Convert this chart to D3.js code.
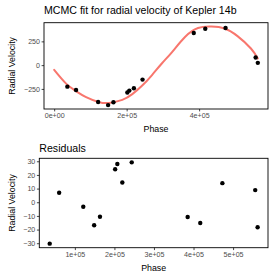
<!DOCTYPE html>
<html>
<head>
<meta charset="utf-8">
<script src="https://cdn.jsdelivr.net/npm/d3@7"></script>
<style>
  html, body { margin: 0; padding: 0; background: #ffffff; }
  svg { display: block; font-family: "Liberation Sans", Arial, Helvetica, sans-serif; }
</style>
</head>
<body>
<svg id="chart" width="277" height="277"></svg>
<script>
// ---- data ----
const obsPhase = [36400, 60300, 121300, 148800, 163500, 201900, 207400, 220000, 243800, 385200, 417000, 472900, 556000, 562000];
const obsRV    = [-226, -261, -388, -420, -391, -288, -268, -243, -152, 338, 383, 391, 80, 24];
const residRV  = [-30.3, 7, -3.3, -16.8, -10.6, 24.2, 28, 14.5, 29.2, -10.8, -15.2, 14, 8.9, -18.3];

const fitPhase = [0, 33600, 61000, 88000, 124600, 152000, 188000, 215600, 243000, 270000, 297000, 324700, 361000, 397000, 434000, 470000, 506000, 543000, 562000];
const fitRV    = [-50, -197, -275, -337, -390, -397, -365, -305, -215, -104, 17, 135, 296, 390, 405, 385, 305, 175, 70];

const topXTicks = [0, 200000, 400000];
const topXLabels = ["0e+00", "2e+05", "4e+05"];
const topYTicks = [-250, 0, 250];
const topYLabels = ["\u2212250", "0", "250"];
const resXTicks = [100000, 200000, 300000, 400000, 500000];
const resXLabels = ["1e+05", "2e+05", "3e+05", "4e+05", "5e+05"];
const resYTicks = [-30, -20, -10, 0, 10, 20, 30];
const resYLabels = ["\u221230", "\u221220", "\u221210", "0", "10", "20", "30"];

const titleTop = "MCMC fit for radial velocity of Kepler 14b";
const titleRes = "Residuals";
const xTitle = "Phase";
const yTitle = "Radial Velocity";

// ---- helpers ----
const svg = d3.select("#chart");
function expand(ext) { const p = (ext[1] - ext[0]) * 0.05; return [ext[0] - p, ext[1] + p]; }

function panel(cfg) {
  const g = svg.append("g");
  const x = d3.scaleLinear().domain(expand(cfg.xExt)).range([cfg.left, cfg.right]);
  const y = d3.scaleLinear().domain(expand(cfg.yExt)).range([cfg.bottom, cfg.top]);

  // title
  g.append("text").attr("x", cfg.left).attr("y", cfg.titleY)
    .attr("font-size", 10.6).attr("fill", "#000").text(cfg.title);

  // axes
  const xa = d3.axisBottom(x).tickValues(cfg.xTicks).tickFormat((d, i) => cfg.xLabels[i]).tickSize(2.4).tickPadding(1.6);
  const ya = d3.axisLeft(y).tickValues(cfg.yTicks).tickFormat((d, i) => cfg.yLabels[i]).tickSize(2.4).tickPadding(1.6);
  const gx = g.append("g").attr("transform", `translate(0,${cfg.bottom})`).call(xa);
  const gy = g.append("g").attr("transform", `translate(${cfg.left},0)`).call(ya);
  [gx, gy].forEach(a => {
    a.select(".domain").remove();
    a.selectAll(".tick line").attr("stroke", "#333333").attr("stroke-width", 0.9);
    a.selectAll(".tick text").attr("fill", "#4D4D4D").attr("font-size", 7.1)
      .attr("font-family", "'Liberation Sans', Arial, sans-serif");
  });

  // border
  g.append("rect").attr("x", cfg.left).attr("y", cfg.top)
    .attr("width", cfg.right - cfg.left).attr("height", cfg.bottom - cfg.top)
    .attr("fill", "none").attr("stroke", "#000").attr("stroke-width", 0.9);

  // axis titles
  g.append("text").attr("x", (cfg.left + cfg.right) / 2).attr("y", cfg.xTitleY)
    .attr("text-anchor", "middle").attr("font-size", 8.8).attr("fill", "#000").text(xTitle);
  g.append("text").attr("transform", `translate(${cfg.yTitleX},${(cfg.top + cfg.bottom) / 2}) rotate(-90)`)
    .attr("text-anchor", "middle").attr("font-size", 8.8).attr("fill", "#000").text(yTitle);

  return { g, x, y };
}

// ---- top panel ----
const topX = d3.extent(fitPhase.concat(obsPhase));
const topY = d3.extent(fitRV.concat(obsRV));
const P1 = panel({
  left: 44, right: 268, top: 22.7, bottom: 109,
  xExt: topX, yExt: topY, title: titleTop, titleY: 14.3,
  xTicks: topXTicks, xLabels: topXLabels, yTicks: topYTicks, yLabels: topYLabels,
  xTitleY: 131.5, yTitleX: 14.5
});
const fitData = fitPhase.map((p, i) => [p, fitRV[i]]);
P1.g.append("path").datum(fitData)
  .attr("fill", "none").attr("stroke", "#F8766D").attr("stroke-width", 2).attr("stroke-linecap", "round")
  .attr("d", d3.line().x(d => P1.x(d[0])).y(d => P1.y(d[1])).curve(d3.curveNatural));
P1.g.selectAll("circle.obs").data(obsPhase).join("circle").attr("class", "obs")
  .attr("cx", (d) => P1.x(d)).attr("cy", (d, i) => P1.y(obsRV[i])).attr("r", 2.2).attr("fill", "#000");

// ---- residual panel ----
const P2 = panel({
  left: 39.3, right: 268, top: 158.3, bottom: 247.7,
  xExt: d3.extent(obsPhase), yExt: d3.extent(residRV), title: titleRes, titleY: 152,
  xTicks: resXTicks, xLabels: resXLabels, yTicks: resYTicks, yLabels: resYLabels,
  xTitleY: 271.3, yTitleX: 14.5
});
P2.g.selectAll("circle.res").data(obsPhase).join("circle").attr("class", "res")
  .attr("cx", (d) => P2.x(d)).attr("cy", (d, i) => P2.y(residRV[i])).attr("r", 2.2).attr("fill", "#000");
</script>
</body>
</html>
